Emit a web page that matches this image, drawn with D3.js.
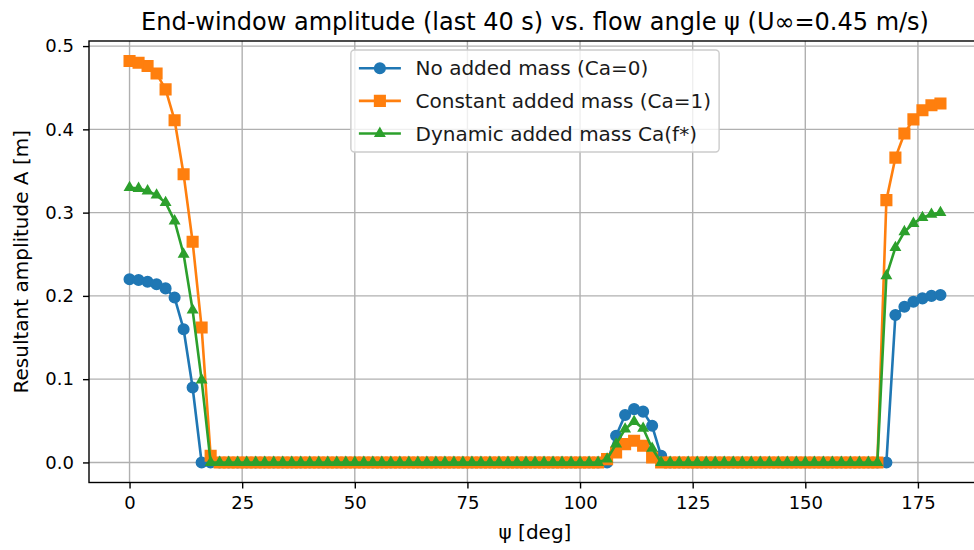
<!DOCTYPE html>
<html>
<head>
<meta charset="utf-8">
<script src="https://cdn.jsdelivr.net/npm/d3@7"></script>
<style>
  body { margin: 0; background: #fff; }
  svg { display: block; font-family: "DejaVu Sans", sans-serif; }
</style>
</head>
<body>
<div id="chart"></div>
<script>
// Flow angle psi [deg]
var psi = [
  0, 2, 4, 6, 8, 10, 12, 14, 16, 18,
  20, 22, 24, 26, 28, 30, 32, 34, 36, 38,
  40, 42, 44, 46, 48, 50, 52, 54, 56, 58,
  60, 62, 64, 66, 68, 70, 72, 74, 76, 78,
  80, 82, 84, 86, 88, 90, 92, 94, 96, 98,
  100, 102, 104, 106, 108, 110, 112, 114, 116, 118,
  120, 122, 124, 126, 128, 130, 132, 134, 136, 138,
  140, 142, 144, 146, 148, 150, 152, 154, 156, 158,
  160, 162, 164, 166, 168, 170, 172, 174, 176, 178,
  180
];

// No added mass (Ca=0)
var ampNoMass = [
  0.220, 0.219, 0.217, 0.214, 0.209, 0.198, 0.160, 0.090, 0,
  0, 0, 0, 0, 0, 0, 0, 0, 0, 0,
  0, 0, 0, 0, 0, 0, 0, 0, 0, 0,
  0, 0, 0, 0, 0, 0, 0, 0, 0, 0,
  0, 0, 0, 0, 0, 0, 0, 0, 0, 0,
  0, 0, 0, 0, 0,
  0.032, 0.057, 0.064, 0.061, 0.044, 0.008,
  0, 0, 0, 0, 0, 0, 0, 0, 0, 0,
  0, 0, 0, 0, 0, 0, 0, 0, 0, 0,
  0, 0, 0, 0, 0,
  0.177, 0.187, 0.193, 0.197, 0.200, 0.201
];

// Constant added mass (Ca=1)
var ampConstMass = [
  0.482, 0.480, 0.476, 0.467, 0.448, 0.411, 0.346, 0.265, 0.162, 0.008,
  0, 0, 0, 0, 0, 0, 0, 0, 0, 0,
  0, 0, 0, 0, 0, 0, 0, 0, 0, 0,
  0, 0, 0, 0, 0, 0, 0, 0, 0, 0,
  0, 0, 0, 0, 0, 0, 0, 0, 0, 0,
  0, 0, 0,
  0.004, 0.012, 0.022, 0.026, 0.020, 0.006,
  0, 0, 0, 0, 0, 0, 0, 0, 0, 0,
  0, 0, 0, 0, 0, 0, 0, 0, 0, 0,
  0, 0, 0, 0, 0,
  0.315, 0.366, 0.395, 0.412, 0.423, 0.429, 0.431
];

// Dynamic added mass Ca(f*)
var ampDynMass = [
  0.330, 0.329, 0.326, 0.321, 0.312, 0.290, 0.250, 0.183, 0.099,
  0, 0, 0, 0, 0, 0, 0, 0, 0, 0,
  0, 0, 0, 0, 0, 0, 0, 0, 0, 0,
  0, 0, 0, 0, 0, 0, 0, 0, 0, 0,
  0, 0, 0, 0, 0, 0, 0, 0, 0, 0,
  0, 0, 0, 0,
  0.004, 0.022, 0.040, 0.049, 0.041, 0.017,
  0, 0, 0, 0, 0, 0, 0, 0, 0, 0,
  0, 0, 0, 0, 0, 0, 0, 0, 0, 0,
  0, 0, 0, 0, 0,
  0.224, 0.258, 0.277, 0.287, 0.294, 0.298, 0.300
];

var seriesNames = ['No added mass (Ca=0)', 'Constant added mass (Ca=1)', 'Dynamic added mass Ca(f*)'];
var seriesColors = ['#1f77b4', '#ff7f0e', '#2ca02c'];
var seriesMarkers = ['circle', 'square', 'triangle'];
var xTicks = [0, 25, 50, 75, 100, 125, 150, 175];
var yTicks = [0, 0.1, 0.2, 0.3, 0.4, 0.5];

var titleText = 'End-window amplitude (last 40 s) vs. flow angle \u03c8 (U\u221e=0.45 m/s)';
var xLabel = '\u03c8 [deg]';
var yLabel = 'Resultant amplitude A [m]';

var series = [ampNoMass, ampConstMass, ampDynMass].map(function(vals, i) {
  return {
    name: seriesNames[i],
    color: seriesColors[i],
    marker: seriesMarkers[i],
    values: vals.map(function(v, j) { return {x: psi[j], y: v}; })
  };
});

// Dimensiones
var W = 974, H = 550;
var margin = {top: 41, left: 89};
var width = 892, height = 441.5;
var fsTick = 18;
var fs = 20;

var svg = d3.select('#chart').append('svg')
  .attr('width', W)
  .attr('height', H);

var chart = svg.append('g')
  .attr('transform', 'translate(' + margin.left + ',' + margin.top + ')');

// Escalas (margenes de 5% como matplotlib)
var xMin = d3.min(psi), xMax = d3.max(psi);
var xPad = (xMax - xMin) * 0.05;
var x = d3.scaleLinear().domain([xMin - xPad, xMax + xPad]).range([0, width]);

var yMax = d3.max(series, function(s) { return d3.max(s.values, function(d) { return d.y; }); });
var yPad = yMax * 0.05;
var y = d3.scaleLinear().domain([0 - yPad, yMax + yPad]).range([height, 0]);

// Rejilla
chart.append('g').selectAll('line.gx')
  .data(xTicks).enter().append('line')
  .attr('x1', function(d) { return x(d); })
  .attr('x2', function(d) { return x(d); })
  .attr('y1', 0).attr('y2', height)
  .style('stroke', '#b0b0b0').style('stroke-width', 1.4);

chart.append('g').selectAll('line.gy')
  .data(yTicks).enter().append('line')
  .attr('y1', function(d) { return y(d); })
  .attr('y2', function(d) { return y(d); })
  .attr('x1', 0).attr('x2', width)
  .style('stroke', '#b0b0b0').style('stroke-width', 1.4);

// Ejes
var xAxis = d3.axisBottom(x).tickValues(xTicks).tickSize(6).tickSizeOuter(0).tickPadding(8)
  .tickFormat(d3.format('d'));
var yAxis = d3.axisLeft(y).tickValues(yTicks).tickSize(6).tickSizeOuter(0).tickPadding(9)
  .tickFormat(d3.format('.1f'));

var gx = chart.append('g')
  .attr('transform', 'translate(0,' + height + ')')
  .call(xAxis);
var gy = chart.append('g').call(yAxis);

[gx, gy].forEach(function(g) {
  g.select('.domain').remove();
  g.selectAll('line').style('stroke', '#000').style('stroke-width', 1.4);
  g.selectAll('text').style('font-family', '"DejaVu Sans", sans-serif')
    .style('font-size', fsTick + 'px').style('fill', '#000');
});

// Lineas y marcadores
var line = d3.line()
  .x(function(d) { return x(d.x); })
  .y(function(d) { return y(d.y); });

var R = 5.2;
function markerPath(type) {
  if (type === 'circle') return d3.symbol().type(d3.symbolCircle).size(Math.PI * R * R)();
  if (type === 'square') return 'M' + (-R) + ',' + (-R) + 'H' + R + 'V' + R + 'H' + (-R) + 'Z';
  var h = R * Math.sqrt(3) / 2;
  return 'M0,' + (-R) + 'L' + h + ',' + (R / 2) + 'L' + (-h) + ',' + (R / 2) + 'Z';
}

var dataSeries = chart.append('g').classed('data-series', true);

series.forEach(function(s) {
  var g = dataSeries.append('g');
  g.append('path')
    .datum(s.values)
    .attr('d', line)
    .style('fill', 'none')
    .style('stroke', s.color)
    .style('stroke-width', 2.6)
    .style('stroke-linejoin', 'round');
  g.selectAll('.mk')
    .data(s.values).enter().append('path')
    .attr('transform', function(d) { return 'translate(' + x(d.x) + ',' + y(d.y) + ')'; })
    .attr('d', markerPath(s.marker))
    .style('fill', s.color)
    .style('stroke', s.color)
    .style('stroke-width', 1.7);
});

// Marco
chart.append('rect')
  .attr('width', width).attr('height', height)
  .style('fill', 'none').style('stroke', '#000').style('stroke-width', 1.4);

// Leyenda
var legend = chart.append('g');
var legendBox = legend.append('rect')
  .attr('rx', 3.5).attr('ry', 3.5)
  .style('fill', '#fff').style('fill-opacity', 0.8)
  .style('stroke', '#cccccc').style('stroke-width', 1.4);

var rowH = 32.6;
var items = legend.selectAll('.item')
  .data(series).enter().append('g')
  .attr('transform', function(d, i) { return 'translate(0,' + (27.3 + i * rowH) + ')'; });

items.append('line')
  .attr('x1', 0).attr('x2', 42)
  .style('stroke', function(d) { return d.color; })
  .style('stroke-width', 2.6);
items.append('path')
  .attr('transform', 'translate(21,0)')
  .attr('d', function(d) { return markerPath(d.marker); })
  .style('fill', function(d) { return d.color; })
  .style('stroke', function(d) { return d.color; })
  .style('stroke-width', 1.7);
items.append('text')
  .attr('x', 56.7)
  .attr('dy', '0.35em')
  .style('font-size', fs + 'px')
  .style('fill', '#1a1a1a')
  .text(function(d) { return d.name; });

var maxText = d3.max(items.selectAll('text').nodes(), function(n) { return n.getComputedTextLength(); });
var boxW = 56.7 + maxText + 8 + 8;
var boxX = width / 2 - boxW / 2;
legendBox.attr('x', -8).attr('y', 9).attr('width', boxW).attr('height', 102);
legend.attr('transform', 'translate(' + (boxX + 8) + ',0)');

// Textos
svg.append('text')
  .attr('x', margin.left + width / 2)
  .attr('y', 30)
  .style('text-anchor', 'middle')
  .style('font-size', '24px')
  .text(titleText);

svg.append('text')
  .attr('x', margin.left + width / 2)
  .attr('y', 539)
  .style('text-anchor', 'middle')
  .style('font-size', fs + 'px')
  .text(xLabel);

svg.append('text')
  .attr('transform', 'translate(28,' + (margin.top + height / 2) + ') rotate(-90)')
  .style('text-anchor', 'middle')
  .style('font-size', fs + 'px')
  .text(yLabel);
</script>
</body>
</html>
